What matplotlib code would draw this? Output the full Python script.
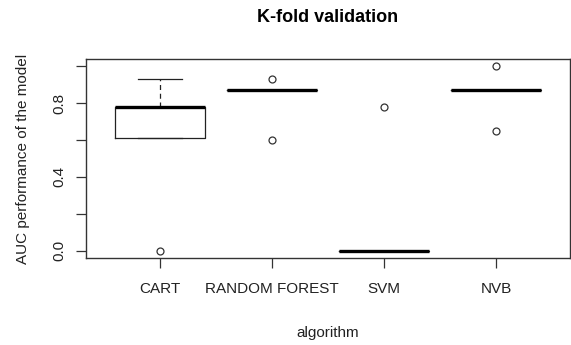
import matplotlib.pyplot as plt
import numpy as np

plt.rcParams['font.family'] = ['Liberation Sans', 'DejaVu Sans']

# values
algorithms = ['CART', 'RANDOM FOREST', 'SVM', 'NVB']
q1 = [0.610, 0.872, 0.0, 0.872]
med = [0.778, 0.872, 0.0, 0.872]
q3 = [0.778, 0.872, 0.0, 0.872]
whislo = [0.610, 0.872, 0.0, 0.872]
whishi = [0.934, 0.872, 0.0, 0.872]
fliers = [[0.0], [0.934, 0.603], [0.782], [1.0, 0.651]]

stats = []
for i, name in enumerate(algorithms):
    stats.append(dict(label=name, q1=q1[i], med=med[i], q3=q3[i],
                      whislo=whislo[i], whishi=whishi[i], fliers=fliers[i]))

fig = plt.figure(figsize=(5.71, 3.45), dpi=100)
ax = fig.add_axes([86/571, 1 - 258/345, 484/571, 199/345])

line_col = '#222222'
ax.bxp(stats, positions=np.arange(1, 5), widths=0.8, showfliers=True,
       boxprops=dict(color=line_col, linewidth=0.9),
       medianprops=dict(color='black', linewidth=2.4, solid_capstyle='butt'),
       whiskerprops=dict(color=line_col, linewidth=0.9, linestyle=(0, (4, 3))),
       capprops=dict(color=line_col, linewidth=0.9),
       capwidths=0.4,
       flierprops=dict(marker='o', markersize=5, markerfacecolor='none',
                       markeredgecolor='#333333', markeredgewidth=0.9))

ax.set_xlim(0.34, 4.66)
ax.set_ylim(-0.04, 1.04)
ax.set_yticks([0.0, 0.2, 0.4, 0.6, 0.8, 1.0])
ax.set_yticklabels(['0.0', '', '0.4', '', '0.8', ''], rotation=90, va='center')
ax.set_xticks(np.arange(1, 5))
ax.set_xticklabels(algorithms)

for s in ax.spines.values():
    s.set_color('#333333')
    s.set_linewidth(1.0)
ax.tick_params(axis='both', length=7, width=0.9, color='#333333',
               labelsize=11, labelcolor='#222222')
ax.tick_params(axis='y', pad=7)
ax.tick_params(axis='x', pad=10)

ax.set_xlabel('algorithm', fontsize=11, color='#222222', labelpad=22)
ax.set_ylabel('AUC performance of the model', fontsize=11, color='#222222', labelpad=16)
fig.text(328/571, 1 - 18/345, 'K-fold validation', ha='center', va='center',
         fontsize=13, fontweight='bold', color='black')

fig.savefig('out.png', dpi=100)
